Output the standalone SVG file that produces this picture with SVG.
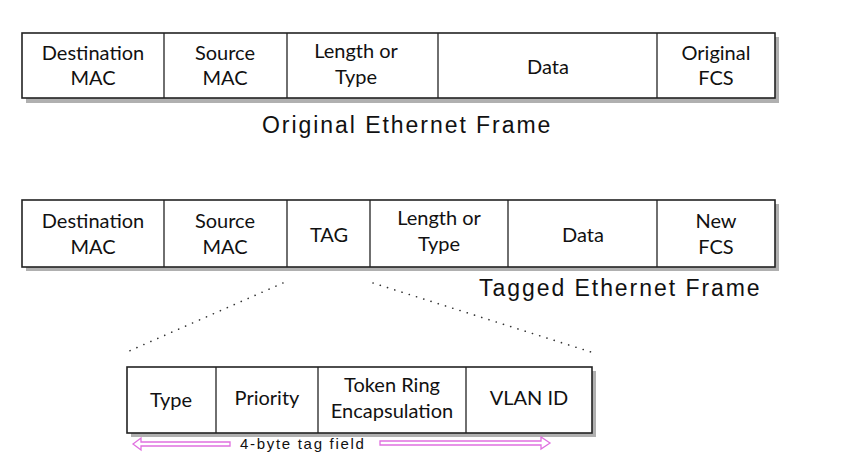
<svg xmlns="http://www.w3.org/2000/svg" width="863" height="462" viewBox="0 0 863 462">
<defs>
<style>
.shadow{fill:#b0b0b0;}
.box{fill:#fff;stroke:#222;stroke-width:1.6;}
.div{stroke:#222;stroke-width:1.3;}
.lbl{font-family:Lato,"Open Sans",sans-serif;font-size:20px;fill:#111;text-anchor:middle;}
.cap{font-family:"Liberation Sans",Arial,sans-serif;font-size:23px;fill:#111;letter-spacing:1.95px;}
.dot{stroke:#333;stroke-width:1.6;stroke-dasharray:0.1 7.5;stroke-linecap:round;fill:none;}
.arr{fill:#fff;stroke:#e070e0;stroke-width:1.3;}
.small{font-family:"Liberation Sans",Arial,sans-serif;font-size:15px;fill:#111;letter-spacing:1.7px;}
</style>
</defs>
<rect width="863" height="462" fill="#fff"/>

<g id="original-frame">
<rect class="shadow" x="26" y="37" width="753" height="66"/>
<rect class="box" x="22" y="33" width="753" height="65"/>
<line class="div" x1="164" y1="33" x2="164" y2="98"/>
<line class="div" x1="287" y1="33" x2="287" y2="98"/>
<line class="div" x1="438" y1="33" x2="438" y2="98"/>
<line class="div" x1="657" y1="33" x2="657" y2="98"/>
<g id="o-dest"><text class="lbl" x="93" y="60">Destination</text><text class="lbl" x="93" y="85">MAC</text></g>
<g id="o-src"><text class="lbl" x="225" y="60">Source</text><text class="lbl" x="225" y="85">MAC</text></g>
<g id="o-len"><text class="lbl" x="356" y="58">Length or</text><text class="lbl" x="356" y="84">Type</text></g>
<g id="o-data"><text class="lbl" x="548" y="74">Data</text></g>
<g id="o-fcs"><text class="lbl" x="716" y="60">Original</text><text class="lbl" x="716" y="85">FCS</text></g>
</g>
<text id="cap-original" class="cap" x="262" y="133">Original Ethernet Frame</text>

<g id="tagged-frame">
<rect class="shadow" x="26" y="204" width="753" height="67"/>
<rect class="box" x="22" y="200" width="753" height="67"/>
<line class="div" x1="164" y1="200" x2="164" y2="267"/>
<line class="div" x1="287" y1="200" x2="287" y2="267"/>
<line class="div" x1="370" y1="200" x2="370" y2="267"/>
<line class="div" x1="508" y1="200" x2="508" y2="267"/>
<line class="div" x1="657" y1="200" x2="657" y2="267"/>
<g id="t-dest"><text class="lbl" x="93" y="228">Destination</text><text class="lbl" x="93" y="254">MAC</text></g>
<g id="t-src"><text class="lbl" x="225" y="228">Source</text><text class="lbl" x="225" y="254">MAC</text></g>
<g id="t-tag"><text class="lbl" x="329" y="242">TAG</text></g>
<g id="t-len"><text class="lbl" x="439" y="225">Length or</text><text class="lbl" x="439" y="251">Type</text></g>
<g id="t-data"><text class="lbl" x="583" y="242">Data</text></g>
<g id="t-fcs"><text class="lbl" x="716" y="228">New</text><text class="lbl" x="716" y="254">FCS</text></g>
</g>
<text id="cap-tagged" class="cap" x="479" y="296">Tagged Ethernet Frame</text>

<g id="connectors">
<line class="dot" x1="283" y1="283" x2="127" y2="352"/>
<line class="dot" x1="373" y1="283" x2="591" y2="352"/>
</g>

<g id="tag-field">
<rect class="shadow" x="131" y="371" width="465" height="66"/>
<rect class="box" x="127" y="367" width="465" height="66"/>
<line class="div" x1="216" y1="367" x2="216" y2="433"/>
<line class="div" x1="318" y1="367" x2="318" y2="433"/>
<line class="div" x1="466" y1="367" x2="466" y2="433"/>
<g id="f-type"><text class="lbl" x="171" y="407">Type</text></g>
<g id="f-prio"><text class="lbl" x="267" y="405">Priority</text></g>
<g id="f-tre"><text class="lbl" x="392" y="392">Token Ring</text><text class="lbl" x="392" y="418">Encapsulation</text></g>
<g id="f-vlan"><text class="lbl" x="529" y="405">VLAN ID</text></g>
</g>

<g id="size-arrows">
<path class="arr" d="M133,444 L141,438 L141,442 L230,442 L230,446 L141,446 L141,450 Z"/>
<path class="arr" d="M550,443 L541,437 L541,441 L380,441 L380,445 L541,445 L541,449 Z"/>
<text class="small" x="240" y="449">4-byte tag field</text>
</g>
</svg>
